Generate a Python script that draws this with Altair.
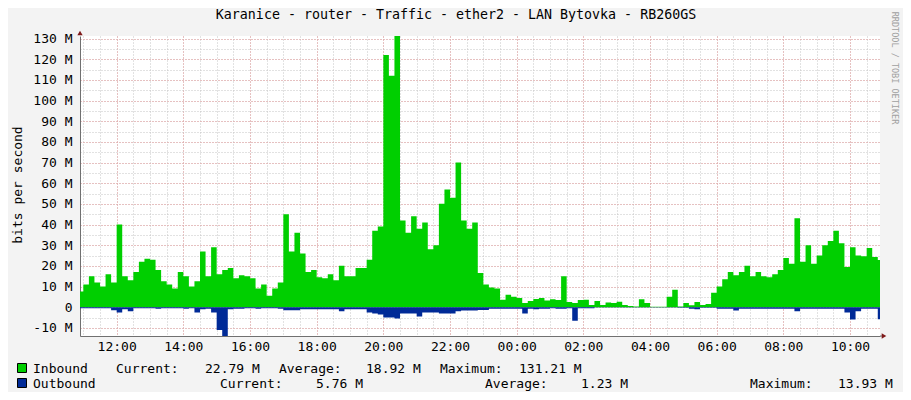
import altair as alt
import pandas as pd

TITLE = "Karanice - router - Traffic - ether2 - LAN Bytovka - RB260GS"
Y_TITLE = "bits per second"
WATERMARK = "RRDTOOL / TOBI OETIKER"

# 10-minute samples, 2024-01-01 10:50 -> 2024-01-02 11:00 (values in Mbit/s)
inbound = [7.6,
    11, 15, 12, 10, 16, 12, 40, 15, 13, 17, 22, 23.5, 23, 18, 12.5, 11, 9, 17,
    15, 10, 12.5, 27, 15, 29, 16, 18, 19, 14, 15.5, 15, 14, 9, 11, 5.5, 9, 12,
    45, 27, 36, 26, 17, 18, 14.5, 14, 16, 13, 20, 15,
    15, 19, 19, 23, 37, 39, 122, 112, 131.2, 42, 36, 44, 38, 41, 28, 30, 50, 57,
    53, 70, 42, 38, 41, 16.5,
    11, 9.5, 9, 3.6, 6, 5,
    4.5, 2, 3, 4, 4.5, 3.2, 3.9, 3.5, 15, 2.5, 2, 3.5, 3.6, 1.1, 3, 1.1, 2.3, 2,
    2.6, 1.1, 0.6, 0.4, 3.9, 2, 0.2, 0.2, 0.2, 5, 8.4, 0.3,
    2, 1, 2.5, 1.1, 1.6, 7, 10, 13.5, 17, 15.5, 17, 20, 15, 17, 15, 14.5, 16, 18,
    23.8, 21, 43, 22, 30, 21, 25, 30, 32, 37, 31, 19.5, 29, 25, 24.6, 28.6, 24.3, 22.8,
    22.8]

outbound = [0.5,
    0.5, 0.5, 0.5, 0.5, 0.5, 1.5, 2.5, 1, 2, 0.5, 0.5, 0.5, 0.5, 0.8, 0.5, 0.5, 0.5, 0.5,
    0.8, 0.5, 2.5, 1, 0.8, 2.5, 11, 13.9, 1, 0.8, 0.8, 0.5, 0.5, 0.8, 0.5, 0.5, 0.5, 0.8,
    1.5, 1.5, 1.5, 1, 1, 1, 1, 1, 1, 1, 2, 1,
    1, 1, 1, 2.5, 3, 3.5, 5, 5, 5.5, 3, 3, 3, 4.5, 2.6, 2.6, 2.6, 3, 3, 3, 2, 1.6, 1.6,
    1.6, 1.3,
    1.3, 0.8, 0.8, 0.8, 0.8, 0.8,
    0.8, 3, 0.8, 1, 0.8, 0.8, 0.5, 0.8, 0.8, 0.5, 6.5, 0.5, 0.5, 0.5, 0.2, 0.2, 0.2, 0.2,
    0.2, 0.2, 0.2, 0.2, 0.2, 0.2, 0.2, 0.2, 0.2, 0.2, 0.2, 0.3,
    0.3, 0.8, 1, 0.3, 0.3, 0.3, 0.8, 0.8, 0.8, 1.6, 0.8, 0.8, 0.8, 0.8, 0.8, 0.8, 0.8, 0.8,
    0.8, 0.8, 2, 0.8, 0.8, 0.8, 0.8, 0.8, 0.8, 0.8, 0.8, 2.5, 6, 2, 0.8, 0.8, 0.8, 5.8,
    5.8]

times = pd.date_range("2024-01-01 10:50", periods=len(inbound), freq="10min")
df = pd.DataFrame({"t": times.strftime("%Y-%m-%dT%H:%M:%S"), "inb": inbound,
                   "out": [-v for v in outbound], "zero": 0.0})

legend_row1 = ["Inbound", "Current:", "22.79 M", "Average:", "18.92 M", "Maximum:", "131.21 M"]
legend_row2 = ["Outbound", "Current:", "5.76 M", "Average:", "1.23 M", "Maximum:", "13.93 M"]

GREEN = "#00CF00"
BLUE = "#002A97"
MONO = "DejaVu Sans Mono"
MINOR = "#C4C4C4"
MAJOR = "#EBA0A0"


def dt(ts):
    return alt.DateTime(year=ts.year, month=ts.month, date=ts.day, hours=ts.hour, minutes=ts.minute)


minor_ticks = [dt(t) for t in pd.date_range("2024-01-01 11:00", "2024-01-02 10:30", freq="30min")]
major_ticks = [dt(t) for t in pd.date_range("2024-01-01 12:00", "2024-01-02 10:00", freq="2h")]

xscale = alt.Scale(domain=[dt(pd.Timestamp("2024-01-01 10:54")), dt(pd.Timestamp("2024-01-02 10:54"))])
yscale = alt.Scale(domain=[-13.93, 131.21], nice=False, zero=False)

x_minor = alt.Axis(orient="bottom", values=minor_ticks, labels=False,
                   ticks=False, domain=False, grid=True, gridColor=MINOR, gridDash=[1, 2], title="")
y_minor = alt.Axis(orient="left", values=list(range(-10, 131, 5)), labels=False, ticks=False,
                   domain=False, grid=True, gridColor=MINOR, gridDash=[1, 2], title="")
x_major = alt.Axis(orient="bottom", values=major_ticks, format="%H:%M",
                   ticks=False, labelPadding=4, domain=True, domainColor="#707070",
                   grid=True, gridColor=MAJOR, gridDash=[1, 2], title="",
                   labelFont=MONO, labelFontSize=13, labelColor="black")
y_major = alt.Axis(orient="left", values=list(range(-10, 131, 10)), ticks=False,
                   labelPadding=8, domain=True, domainColor="#707070", grid=True, gridColor=MAJOR,
                   gridDash=[1, 2], title="", labelFont=MONO, labelFontSize=13, labelColor="black",
                   labelExpr="datum.value == 0 ? '0' : datum.value + ' M'")

inb = alt.Chart(df).mark_area(color=GREEN, interpolate="step-after", clip=True).encode(
    x=alt.X("t:T", scale=xscale, axis=x_minor),
    y=alt.Y("inb:Q", scale=yscale, axis=y_minor),
    y2="zero:Q",
)
outb = alt.Chart(df).mark_area(color=BLUE, interpolate="step-after", clip=True).encode(
    x=alt.X("t:T", scale=xscale, axis=x_major),
    y=alt.Y("out:Q", scale=yscale, axis=y_major),
    y2="zero:Q",
)

one = pd.DataFrame({"k": [0]})


def text_layer(txt, x, y, size=13, angle=0, align="left", color="black"):
    return alt.Chart(one).mark_text(text=txt, font=MONO, fontSize=size, align=align,
                                    baseline="middle", angle=angle, color=color).encode(
        x=alt.value(x), y=alt.value(y))


layers = [inb, outb]
layers.append(text_layer(TITLE, 376, -21, size=13.3, align="center"))
layers.append(text_layer(Y_TITLE, -62, 149, angle=270, align="center"))
layers.append(text_layer(WATERMARK, 815, 32, size=8.5, angle=90, align="center", color="#A0A0A0"))

# arrows on axes
layers.append(alt.Chart(one).mark_rule(color="#707070").encode(
    x=alt.value(800), x2=alt.value(804), y=alt.value(300)))
layers.append(alt.Chart(one).mark_point(shape="triangle-up", filled=True, size=28, color="#7F1A1A",
                                        opacity=1).encode(x=alt.value(0), y=alt.value(-3)))
layers.append(alt.Chart(one).mark_point(shape="triangle-right", filled=True, size=28, color="#7F1A1A",
                                        opacity=1).encode(x=alt.value(804), y=alt.value(300)))

# legend
row1_x = [-47, 36, 125, 199, 286, 360, 439]
row2_x = [-47, 140, 236, 405, 501, 670, 758]
for txt, x in zip(legend_row1, row1_x):
    layers.append(text_layer(txt, x, 333))
for txt, x in zip(legend_row2, row2_x):
    layers.append(text_layer(txt, x, 348))
layers.append(alt.Chart(one).mark_square(size=81, color=GREEN, stroke="black", strokeWidth=1,
                                         opacity=1).encode(x=alt.value(-58), y=alt.value(332)))
layers.append(alt.Chart(one).mark_square(size=81, color=BLUE, stroke="black", strokeWidth=1,
                                         opacity=1).encode(x=alt.value(-58), y=alt.value(347)))

chart = alt.layer(*layers).resolve_axis(x="independent", y="independent").properties(
    width=800, height=300,
    padding={"left": 72, "top": 28, "right": 23, "bottom": 56},
    autosize=alt.AutoSizeParams(type="none"),
    background="#F3F3F3",
).configure_view(fill="white", strokeWidth=0)

chart.save("out.html", embed_options={"renderer": "svg", "actions": False})
